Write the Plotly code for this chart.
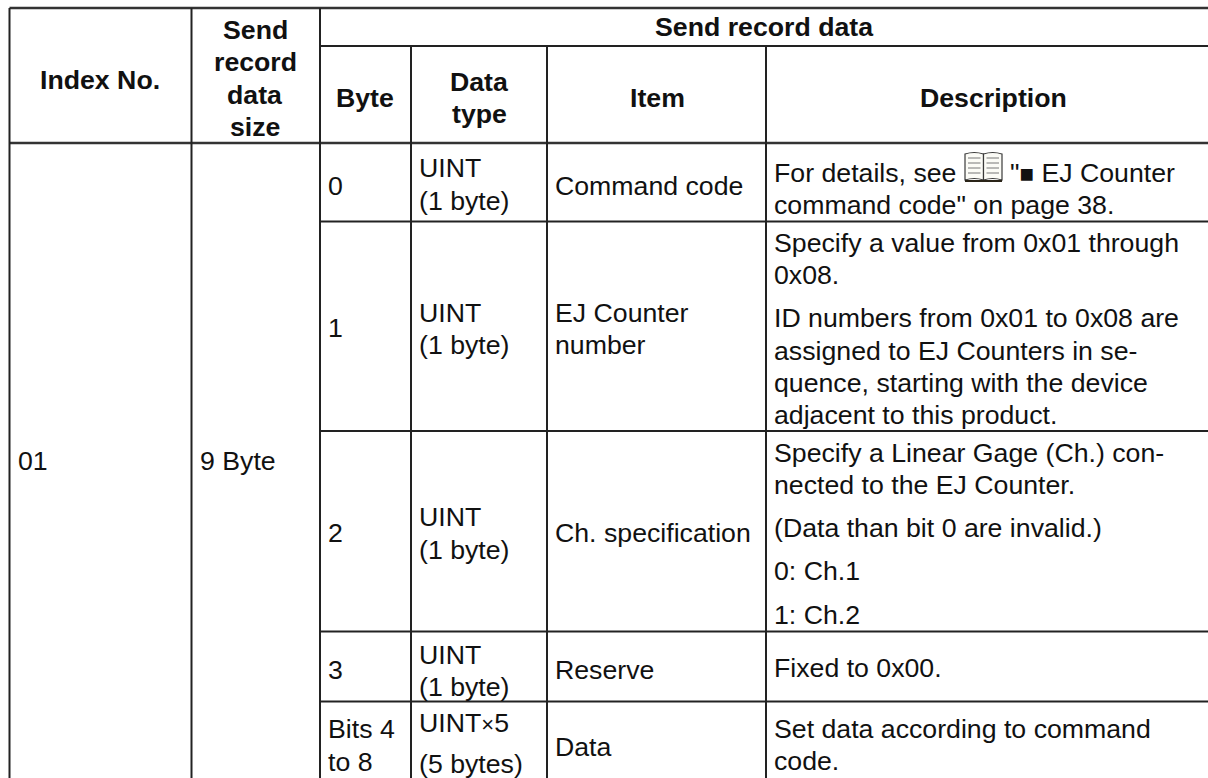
import plotly.graph_objects as go

# ---- table content ----
title_spanning = "Send record data"
index_header = "Index No."
size_header = ["Send", "record", "data", "size"]
sub_headers = ["Byte", ["Data", "type"], "Item", "Description"]
index_value = "01"
size_value = "9 Byte"
byte_values = ["0", "1", "2", "3", ["Bits 4", "to 8"]]
type_values = [["UINT", "(1 byte)"], ["UINT", "(1 byte)"], ["UINT", "(1 byte)"], ["UINT", "(1 byte)"],
               ['UINT<span style="font-size:22px">×</span>5', "(5 bytes)"]]
item_values = ["Command code", ["EJ Counter", "number"], "Ch. specification", "Reserve", "Data"]
desc_row0 = ["For details, see", '"<span style="font-size:24px">■</span> EJ Counter', 'command code" on page 38.']
desc_row1 = ["Specify a value from 0x01 through", "0x08.", "ID numbers from 0x01 to 0x08 are",
             "assigned to EJ Counters in se-", "quence, starting with the device", "adjacent to this product."]
desc_row2 = ["Specify a Linear Gage (Ch.) con-", "nected to the EJ Counter.", "(Data than bit 0 are invalid.)",
             "0: Ch.1", "1: Ch.2"]
desc_row3 = ["Fixed to 0x00."]
desc_row4 = ["Set data according to command", "code."]

# ---- geometry of the page ----
W, H = 1208, 778
FONT = "Liberation Sans"
SIZE = 26.7
INK = "#111111"
X = dict(left=9.5, size=191.5, rec=320, typ=411, item=547, desc=766, right=1208)
PAD = 8

texts = []


def put(s, x, y, anchor="left", bold=False):
    texts.append(dict(s=f"<b>{s}</b>" if bold else s, x=x, y=y, anchor=anchor))


put(title_spanning, 764, 27, "center", True)
put(index_header, 100, 80, "center", True)
for s, y in zip(size_header, [30, 62, 95, 127]):
    put(s, 255, y, "center", True)
put(sub_headers[0], 365, 98, "center", True)
for s, y in zip(sub_headers[1], [82, 114]):
    put(s, 479, y, "center", True)
put(sub_headers[2], 657, 98, "center", True)
put(sub_headers[3], 993, 98, "center", True)
put(index_value, X["left"] + PAD, 461)
put(size_value, X["size"] + PAD, 461)

byte_y = [186, 328, 533, 670]
for b, y in zip(byte_values[:4], byte_y):
    put(b, X["rec"] + PAD, y)
type_y = [(168, 201), (313, 345), (517, 550), (655, 687)]
for tv, (y0, y1) in zip(type_values[:4], type_y):
    put(tv[0], X["typ"] + PAD, y0)
    put(tv[1], X["typ"] + PAD, y1)
for s, y in zip(byte_values[4], [729, 762]):
    put(s, X["rec"] + PAD, y)
for s, y in zip(type_values[4], [723, 764]):
    put(s, X["typ"] + PAD, y)

put(item_values[0], X["item"] + PAD, 186)
for s, y in zip(item_values[1], [313, 345]):
    put(s, X["item"] + PAD, y)
put(item_values[2], X["item"] + PAD, 533)
put(item_values[3], X["item"] + PAD, 670)
put(item_values[4], X["item"] + PAD, 747)

dx = X["desc"] + PAD
put(desc_row0[0], dx, 173)
put(desc_row0[1], 1010, 173)
put(desc_row0[2], dx, 205)
for s, y in zip(desc_row1, [243, 275, 318, 351, 383, 415]):
    put(s, dx, y)
for s, y in zip(desc_row2, [453, 485, 528, 571, 615]):
    put(s, dx, y)
put(desc_row3[0], dx, 668)
for s, y in zip(desc_row4, [729, 761]):
    put(s, dx, y)

shapes = []


def line(x0, y0, x1, y1, w=2, c="#222222"):
    shapes.append(dict(type="line", x0=x0, y0=y0, x1=x1, y1=y1, xref="x", yref="y",
                       line=dict(color=c, width=w), layer="above"))


line(X["left"], 8, X["right"], 8, 2.5, "#333333")
line(X["rec"], 46, X["right"], 46, 2)
line(X["left"], 143, X["right"], 143, 2.5, "#333333")
for y in [221.5, 431, 631.5, 701.5]:
    line(X["rec"], y, X["right"], y, 2)
for k, top in [("left", 8), ("size", 8), ("rec", 8), ("typ", 46), ("item", 46), ("desc", 46)]:
    line(X[k], top, X[k], H, 2)

# open-book pictogram beside the reference text
bx0, bx1, bm, by0, by1 = 965, 1002, 983.5, 154, 180
for xa, xb in [(bx0, bm), (bm, bx1)]:
    xc = (xa + xb) / 2
    shapes.append(dict(type="path", xref="x", yref="y", layer="above", fillcolor="#fbfbf6",
                       line=dict(color="#3a3a3a", width=1.2),
                       path=f"M{xa},{by0} Q{xc},{by0 - 3} {xb},{by0} L{xb},{by1} Q{xc},{by1 - 3} {xa},{by1} Z"))
    for yy in [158, 163, 168, 173]:
        shapes.append(dict(type="line", x0=xa + 3, x1=xb - 3, y0=yy, y1=yy, xref="x", yref="y",
                           line=dict(color="#777777", width=1), layer="above"))
line(bx0, 181, bx1, 181, 2, "#2a2418")

annotations = [dict(text=t["s"], x=t["x"], y=t["y"], xref="x", yref="y", xanchor=t["anchor"],
                    yanchor="middle", showarrow=False, borderpad=0, borderwidth=0,
                    font=dict(family=FONT, size=SIZE, color=INK)) for t in texts]

fig = go.Figure()
fig.update_layout(
    width=W, height=H, margin=dict(l=0, r=0, t=0, b=0),
    paper_bgcolor="white", plot_bgcolor="white", showlegend=False,
    xaxis=dict(range=[0, W], visible=False, fixedrange=True),
    yaxis=dict(range=[H, 0], visible=False, fixedrange=True),
    shapes=shapes, annotations=annotations,
)
fig.write_html("out.html", config={"displayModeBar": False},
               post_script="document.body.style.margin='0';document.body.style.overflow='hidden';")
